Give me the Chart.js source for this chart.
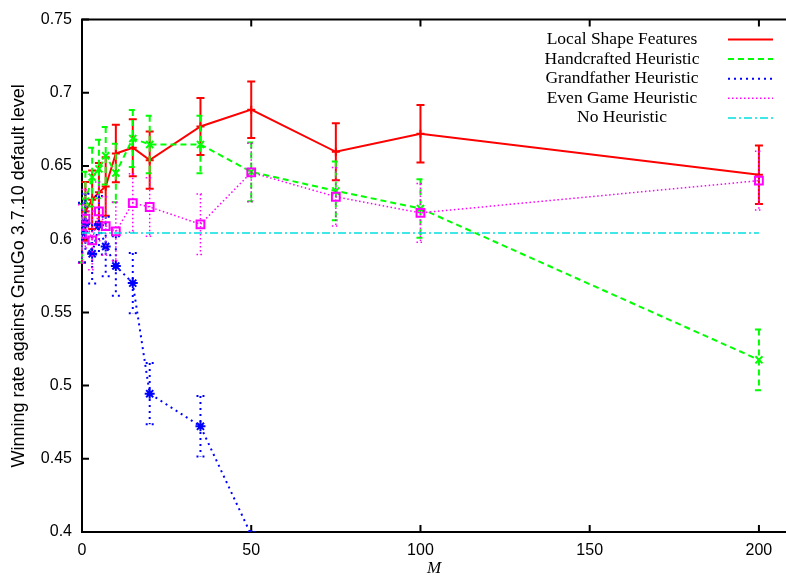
<!DOCTYPE html>
<html>
<head>
<meta charset="utf-8">
<script src="https://cdn.jsdelivr.net/npm/chart.js@4.4.0/dist/chart.umd.min.js"></script>
<style>
  html, body { margin: 0; padding: 0; background: #fff; }
  #wrap { width: 786px; height: 577px; }
</style>
</head>
<body>
<div id="wrap"><canvas id="chart" width="786" height="577"></canvas></div>
<script>
// M values (x axis)
const mValues = [0, 1, 3, 5, 7, 10, 15, 20, 35, 50, 75, 100, 200];
const mGrandfather = [0, 1, 3, 5, 7, 10, 15, 20, 35, 50];

// winning rates and error bar half-widths
const localShape     = [0.604, 0.619, 0.627, 0.632, 0.636, 0.6585, 0.6625, 0.654, 0.677, 0.6885, 0.6597, 0.672, 0.644];
const localShapeErr  = [0.020, 0.020, 0.020, 0.020, 0.020, 0.0196, 0.0195, 0.0195, 0.0195, 0.0193, 0.0195, 0.0196, 0.020];
const handcrafted    = [0.604, 0.626, 0.6424, 0.648, 0.657, 0.6452, 0.6688, 0.6647, 0.6647, 0.646, 0.633, 0.621, 0.5176];
const handcraftedErr = [0.020, 0.020, 0.020, 0.020, 0.0197, 0.020, 0.0195, 0.0197, 0.0197, 0.020, 0.020, 0.020, 0.0208];
const grandfather    = [0.6045, 0.611, 0.590, 0.6095, 0.595, 0.5817, 0.570, 0.4945, 0.4722, 0.398];
const grandfatherErr = [0.0204, 0.020, 0.0203, 0.020, 0.0203, 0.0203, 0.0205, 0.0209, 0.0207, 0.020];
const evenGame       = [0.6036, 0.614, 0.5992, 0.619, 0.609, 0.6053, 0.6247, 0.622, 0.6102, 0.6456, 0.629, 0.618, 0.640];
const evenGameErr    = [0.020, 0.020, 0.020, 0.020, 0.020, 0.020, 0.020, 0.020, 0.0206, 0.020, 0.020, 0.020, 0.020];
const noHeuristicX   = [0, 200];
const noHeuristic    = [0.6042, 0.6042];

const legendNames = ['Local Shape Features', 'Handcrafted Heuristic', 'Grandfather Heuristic', 'Even Game Heuristic', 'No Heuristic'];

const pts = (xs, ys) => xs.map((x, i) => ({ x: x, y: ys[i] }));

// gnuplot style error bars, drawn with each dataset
const errorBars = {
  id: 'errorBars',
  afterDatasetDraw(chart, args) {
    const ds = chart.data.datasets[args.index];
    if (!ds.errors) return;
    const ctx = chart.ctx, ys = chart.scales.y, area = chart.chartArea;
    ctx.save();
    ctx.beginPath();
    ctx.rect(area.left - 6, area.top, area.right - area.left + 6, area.bottom - area.top);
    ctx.clip();
    ctx.strokeStyle = ds.borderColor;
    ctx.lineWidth = ds.borderWidth;
    args.meta.data.forEach((p, i) => {
      const v = ds.data[i].y, e = ds.errors[i];
      if (v < ys.min || v > ys.max) return;
      const top = ys.getPixelForValue(v + e), bot = ys.getPixelForValue(v - e);
      ctx.setLineDash(ds.borderDash || []);
      ctx.beginPath();
      ctx.moveTo(p.x, top); ctx.lineTo(p.x, bot);
      ctx.stroke();
      ctx.beginPath();
      ctx.moveTo(p.x - 4, top); ctx.lineTo(p.x + 4, top);
      ctx.moveTo(p.x - 4, bot); ctx.lineTo(p.x + 4, bot);
      ctx.stroke();
    });
    ctx.restore();
  }
};

// border with inward ticks
const frame = {
  id: 'frame',
  beforeDatasetsDraw(chart) {
    const ctx = chart.ctx, a = chart.chartArea, xs = chart.scales.x, ys = chart.scales.y;
    ctx.save();
    ctx.strokeStyle = '#000';
    ctx.lineWidth = 2;
    ctx.beginPath();
    ctx.moveTo(a.right, a.top); ctx.lineTo(a.left, a.top);
    ctx.lineTo(a.left, a.bottom); ctx.lineTo(a.right, a.bottom);
    ctx.stroke();
    ctx.beginPath();
    xs.ticks.forEach(t => {
      const px = xs.getPixelForValue(t.value);
      ctx.moveTo(px, a.bottom); ctx.lineTo(px, a.bottom - 7);
      ctx.moveTo(px, a.top); ctx.lineTo(px, a.top + 7);
    });
    ys.ticks.forEach(t => {
      const py = ys.getPixelForValue(t.value);
      ctx.moveTo(a.left, py); ctx.lineTo(a.left + 7, py);
    });
    ctx.stroke();
    ctx.restore();
  }
};

// key box in the top right corner
const key = {
  id: 'key',
  afterDraw(chart) {
    const ctx = chart.ctx;
    ctx.save();
    ctx.font = '17.5px "Liberation Serif", serif';
    ctx.fillStyle = '#000';
    ctx.textAlign = 'center';
    ctx.textBaseline = 'middle';
    chart.data.datasets.forEach((ds, i) => {
      const y = 39.5 + i * 19.6;
      ctx.fillText(legendNames[i], 622, y);
      ctx.strokeStyle = ds.borderColor;
      ctx.lineWidth = ds.borderWidth;
      ctx.setLineDash(ds.borderDash || []);
      ctx.beginPath();
      ctx.moveTo(728, y); ctx.lineTo(773, y);
      ctx.stroke();
    });
    ctx.restore();
  }
};

new Chart(document.getElementById('chart'), {
  type: 'line',
  data: {
    datasets: [{
      label: legendNames[0],
      data: pts(mValues, localShape),
      errors: localShapeErr,
      borderColor: '#ff0000',
      borderWidth: 2,
      pointStyle: 'cross',
      pointRadius: 4,
      pointBorderWidth: 2,
      order: 5
    }, {
      label: legendNames[1],
      data: pts(mValues, handcrafted),
      errors: handcraftedErr,
      borderColor: '#00ff00',
      borderWidth: 2,
      borderDash: [6, 4],
      pointStyle: 'crossRot',
      pointRadius: 5,
      pointBorderWidth: 2,
      order: 4
    }, {
      label: legendNames[2],
      data: pts(mGrandfather, grandfather),
      errors: grandfatherErr,
      borderColor: '#0000ff',
      borderWidth: 2,
      borderDash: [2, 4],
      pointStyle: 'star',
      pointRadius: 5,
      pointBorderWidth: 2,
      order: 3
    }, {
      label: legendNames[3],
      data: pts(mValues, evenGame),
      errors: evenGameErr,
      borderColor: '#ff00ff',
      borderWidth: 1.5,
      borderDash: [1.5, 2.5],
      pointStyle: 'rect',
      pointRadius: 5.5,
      pointBorderWidth: 2,
      pointBackgroundColor: 'rgba(0,0,0,0)',
      order: 2
    }, {
      label: legendNames[4],
      data: pts(noHeuristicX, noHeuristic),
      borderColor: '#00e0e0',
      borderWidth: 1.5,
      borderDash: [8, 3, 2, 3],
      pointRadius: 0,
      order: 1
    }]
  },
  options: {
    responsive: false,
    animation: false,
    devicePixelRatio: 1,
    layout: { autoPadding: false, padding: { top: 18, right: 0, left: 0, bottom: 0 } },
    elements: { line: { tension: 0, fill: false } },
    plugins: { legend: { display: false }, tooltip: { enabled: false } },
    scales: {
      x: {
        type: 'linear',
        min: 0,
        max: 208,
        border: { display: false },
        grid: { display: false, drawTicks: false },
        ticks: {
          stepSize: 50,
          includeBounds: false,
          padding: 9,
          color: '#000',
          font: { family: '"Liberation Sans", Arial, sans-serif', size: 16 }
        },
        title: {
          display: true,
          text: 'M',
          color: '#000',
          padding: { top: 0, bottom: -2 },
          font: { family: '"Liberation Serif", serif', size: 17, style: 'italic' }
        },
        afterFit: s => { s.height = 45; s.paddingRight = 0; s.paddingLeft = 0; }
      },
      y: {
        min: 0.4,
        max: 0.75,
        border: { display: false },
        grid: { display: false, drawTicks: false },
        ticks: {
          stepSize: 0.05,
          padding: 10,
          color: '#000',
          font: { family: '"Liberation Sans", Arial, sans-serif', size: 16 },
          callback: v => String(parseFloat(v.toFixed(2)))
        },
        title: {
          display: true,
          text: 'Winning rate against GnuGo 3.7.10 default level',
          color: '#000',
          padding: { top: 8, bottom: 0 },
          font: { family: '"Liberation Sans", Arial, sans-serif', size: 18 }
        },
        afterFit: s => { s.width = 82; }
      }
    }
  },
  plugins: [frame, errorBars, key]
});
</script>
</body>
</html>
